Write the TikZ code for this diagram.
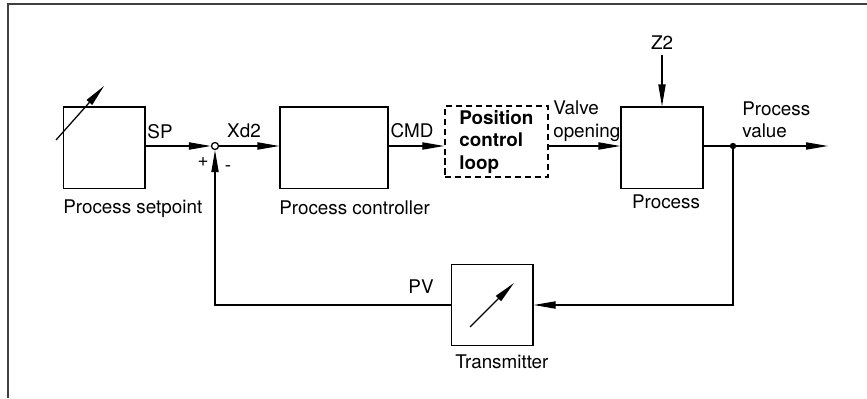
\documentclass[tikz,border=0pt]{standalone}
\usepackage{fontspec}
\setmainfont{TeX Gyre Heros}
\usetikzlibrary{
    positioning,
    arrows.meta
}

\begin{document}
\begin{tikzpicture}[font=\fontsize{13.4pt}{16pt}\selectfont]
  \useasboundingbox (0,0) rectangle (21.675,9.95);

  % Define styles:
  \tikzset{
    block/.style={draw, line width=0.9pt, minimum width=2.03cm, minimum height=2.03cm, inner sep=0},
    signal/.style={->, >={Triangle[length=0.55cm, width=0.18cm]}, line width=0.9pt},
    lbl/.style={inner sep=0}
  };

  % Frame (left and top edge only)
  \draw[line width=1pt, black!75] (0.2,0) -- (0.2,9.85) -- (21.675,9.85);

  % Blocks of the loop
  \node[block] (setpoint) at (2.61,6.26) {};
  \node[block, minimum width=2.7cm] (controller) at (8.35,6.26) {};
  \node[block, dash pattern=on 4.3pt off 2.8pt, minimum width=2.575cm, minimum height=1.775cm,
        align=left, font=\fontsize{13.4pt}{16pt}\selectfont\bfseries] (posloop) at (12.41,6.41)
        {Position\\control\\loop};
  \node[block, minimum width=2.05cm] (process) at (16.55,6.26) {};
  \node[block] (transmitter) at (12.31,2.325) {};

  % Summing point and branch point
  \node[draw, circle, minimum size=0.175cm, inner sep=0, line width=0.9pt] (sum) at (5.375,6.3) {};
  \node[circle, fill, minimum size=0.16cm, inner sep=0] (branch) at (18.325,6.3) {};
  \coordinate (out) at (20.7,6.3);
  \coordinate (z2end) at (16.55,8.575);

  % Adjustable symbols in setpoint and transmitter
  \draw[signal] (1.4,6.45) -- (2.6,7.8);
  \draw[signal] (11.75,1.775) -- (12.85,2.875);

  % Forward path
  \draw[signal] (setpoint.east |- sum) -- (sum);
  \draw[signal] (sum) -- (controller.west |- sum);
  \draw[signal] (controller.east |- sum) -- (posloop.west |- sum);
  \draw[signal] (posloop.east |- sum) -- (process.west |- sum);
  \draw[signal] (process.east |- sum) -- (out);
  \draw[signal] (z2end) -- (process.north);

  % Feedback path
  \draw[signal] (branch) |- (transmitter);
  \draw[signal] (transmitter) -| (sum);

  % Signal labels
  \node[lbl] (sp) at (4.0,6.65) {SP};
  \node[lbl] (xd2) at (6.1,6.675) {Xd2};
  \node[lbl] (cmd) at (10.3,6.675) {CMD};
  \node[lbl, anchor=west, align=left] (valve) at (13.825,6.925) {Valve\\opening};
  \node[lbl, anchor=west, align=left] (pvalue) at (18.55,6.95) {Process\\value};
  \node[lbl] (plus) at (5.075,5.9) {+};
  \node[lbl] (minus) at (5.7,5.725) {-};
  \node[lbl] (pv) at (10.525,2.775) {PV};
  \node[lbl] (z2) at (16.55,8.875) {Z2};

  % Block labels
  \node[lbl, anchor=west] (l_setpoint) at (1.575,4.725) {Process setpoint};
  \node[lbl, anchor=west] (l_controller) at (6.975,4.75) {Process controller};
  \node[lbl] (l_process) at (16.65,4.9) {Process};
  \node[lbl, anchor=west] (l_transmitter) at (11.375,0.9) {Transmitter};
\end{tikzpicture}
\end{document}
